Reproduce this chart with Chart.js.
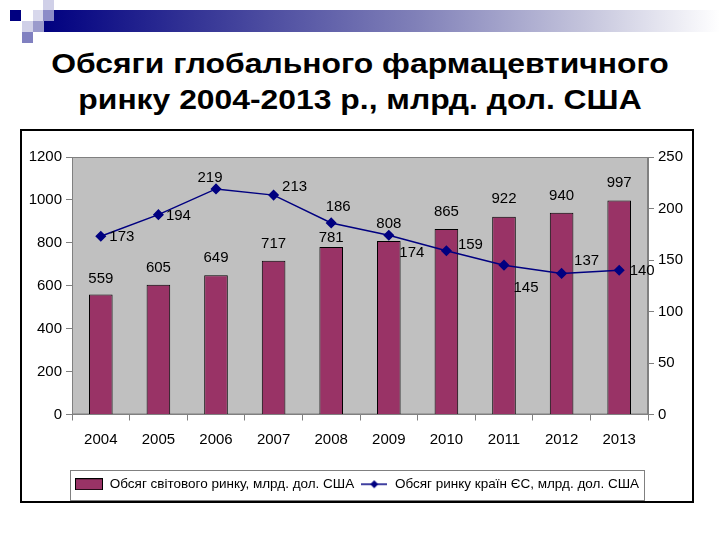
<!DOCTYPE html>
<html>
<head>
<meta charset="utf-8">
<script src="https://cdn.jsdelivr.net/npm/chart.js@4/dist/chart.umd.min.js"></script>
<style>
  html, body { margin: 0; padding: 0; background: #ffffff; }
  body { width: 720px; height: 540px; position: relative; overflow: hidden; font-family: "Liberation Sans", Arial, sans-serif; }
  .sq { position: absolute; width: 11px; height: 11px; }
  .band { position: absolute; left: 43px; top: 10px; width: 677px; height: 22px;
          background: linear-gradient(to right, #000080 0%, #3a3a98 25%, #8080b8 55%, #c4c4dc 80%, #ffffff 100%); }
  .title { position: absolute; left: 0; top: 46px; width: 720px; text-align: center;
           font-size: 27px; line-height: 36px; font-weight: bold; color: #000000;
           transform: scaleX(1.18); transform-origin: 360px 0; }
  #chart-box { position: absolute; left: 20px; top: 129px; width: 670px; height: 370px; border: 2px solid #000000; }
  #chart-box canvas { display: block; }
</style>
</head>
<body>
<div class="band"></div>
<div class="sq" style="left:10px;top:10px;background:#000080"></div>
<div class="sq" style="left:33px;top:10px;background:#d8d8ec"></div>
<div class="sq" style="left:43px;top:0px;background:#d0d0e8"></div>
<div class="sq" style="left:43px;top:10px;background:#8c8cc8"></div>
<div class="sq" style="left:22px;top:21px;background:#d0d0e8"></div>
<div class="sq" style="left:33px;top:21px;background:#9a9acc"></div>
<div class="sq" style="left:22px;top:32px;background:#8080c0"></div>
<div class="title">Обсяги глобального фармацевтичного<br>ринку 2004-2013 р., млрд. дол. США</div>
<div id="chart-box"><canvas id="pharma-chart" width="670" height="370"></canvas></div>
<script>
// дані з графіка
const years = ['2004', '2005', '2006', '2007', '2008', '2009', '2010', '2011', '2012', '2013'];
const worldMarket = [559, 605, 649, 717, 781, 808, 865, 922, 940, 997];
const euMarket = [173, 194, 219, 213, 186, 174, 159, 145, 137, 140];
const worldLabel = 'Обсяг світового ринку, млрд. дол. США';
const euLabel = 'Обсяг ринку країн ЄС, млрд. дол. США';

// зсуви підписів (як на оригіналі)
const barLabelLift = [16, 17, 17, 17, 9, 17, 17, 18, 17, 18];
const euLabelShift = [[21, 1], [20, 1], [-6, -11], [21, -8], [7, -16], [23, 18], [24, -6], [22, 23], [25, -13], [23, 1]];

const fontFamily = '"Liberation Sans", Arial, sans-serif';
const barColor = '#993366';
const lineColor = '#000080';

// іконки легенди
function makeBarIcon() {
    const c = document.createElement('canvas');
    c.width = 28; c.height = 12;
    const g = c.getContext('2d');
    g.fillStyle = barColor;
    g.fillRect(0, 0, 28, 12);
    g.strokeStyle = '#000000';
    g.lineWidth = 1;
    g.strokeRect(0.5, 0.5, 27, 11);
    return c;
}
function makeLineIcon() {
    const c = document.createElement('canvas');
    c.width = 26; c.height = 12;
    const g = c.getContext('2d');
    g.strokeStyle = lineColor;
    g.lineWidth = 1.5;
    g.beginPath(); g.moveTo(0, 6); g.lineTo(26, 6); g.stroke();
    g.fillStyle = lineColor;
    g.beginPath(); g.moveTo(13, 2); g.lineTo(17, 6); g.lineTo(13, 10); g.lineTo(9, 6); g.closePath(); g.fill();
    return c;
}
const barIcon = makeBarIcon();
const lineIcon = makeLineIcon();

const plotBackground = {
    id: 'plotBackground',
    beforeDraw(chart) {
        const a = chart.chartArea, ctx = chart.ctx;
        ctx.save();
        ctx.fillStyle = '#c0c0c0';
        ctx.fillRect(a.left, a.top, a.right - a.left, a.bottom - a.top);
        ctx.strokeStyle = '#808080';
        ctx.lineWidth = 1;
        ctx.strokeRect(a.left + 0.5, a.top + 0.5, a.right - a.left - 1, a.bottom - a.top - 1);
        ctx.restore();
    }
};

const valueLabels = {
    id: 'valueLabels',
    afterDatasetsDraw(chart) {
        const ctx = chart.ctx;
        ctx.save();
        ctx.font = '15px ' + fontFamily;
        ctx.fillStyle = '#000000';
        ctx.textAlign = 'center';
        ctx.textBaseline = 'middle';
        chart.getDatasetMeta(0).data.forEach((el, i) => {
            ctx.fillText(String(worldMarket[i]), el.x, el.y - barLabelLift[i]);
        });
        chart.getDatasetMeta(1).data.forEach((el, i) => {
            const s = euLabelShift[i];
            ctx.fillText(String(euMarket[i]), el.x + s[0], el.y + s[1]);
        });
        ctx.restore();
    }
};

const legendFrame = {
    id: 'legendFrame',
    afterDraw(chart) {
        const lg = chart.legend;
        if (!lg || !lg.legendHitBoxes.length) return;
        const boxes = lg.legendHitBoxes;
        const left = Math.min(...boxes.map(b => b.left)) - 5;
        const right = Math.max(...boxes.map(b => b.left + b.width)) + 5;
        const top = Math.min(...boxes.map(b => b.top)) - 8;
        const bottom = Math.max(...boxes.map(b => b.top + b.height)) + 8;
        const ctx = chart.ctx;
        ctx.save();
        ctx.strokeStyle = '#808080';
        ctx.lineWidth = 1;
        ctx.strokeRect(Math.round(left) + 0.5, Math.round(top) + 0.5, Math.round(right - left), Math.round(bottom - top));
        ctx.restore();
    }
};

const ctx = document.getElementById('pharma-chart').getContext('2d');
new Chart(ctx, {
    data: {
        labels: years,
        datasets: [{
            type: 'bar',
            label: worldLabel,
            data: worldMarket,
            yAxisID: 'y',
            backgroundColor: barColor,
            borderColor: '#000000',
            borderWidth: 1,
            barPercentage: 0.41,
            categoryPercentage: 1,
            order: 2
        }, {
            type: 'line',
            label: euLabel,
            data: euMarket,
            yAxisID: 'y1',
            borderColor: lineColor,
            backgroundColor: lineColor,
            borderWidth: 1.5,
            pointStyle: 'rectRot',
            pointRadius: 4.5,
            pointBackgroundColor: lineColor,
            pointBorderColor: lineColor,
            tension: 0,
            fill: false,
            order: 1
        }]
    },
    options: {
        responsive: false,
        animation: false,
        layout: { padding: { top: 26, bottom: 0, left: 0, right: 0 } },
        plugins: {
            legend: {
                position: 'bottom',
                labels: {
                    usePointStyle: true,
                    pointStyleWidth: 28,
                    padding: 6,
                    color: '#000000',
                    font: { family: fontFamily, size: 13.5 },
                    generateLabels(chart) {
                        const items = Chart.defaults.plugins.legend.labels.generateLabels(chart);
                        items.sort((a, b) => a.datasetIndex - b.datasetIndex);
                        items.forEach(it => {
                            it.pointStyle = it.datasetIndex === 0 ? barIcon : lineIcon;
                        });
                        return items;
                    }
                }
            },
            tooltip: { enabled: false }
        },
        scales: {
            x: {
                offset: true,
                grid: { offset: true, drawOnChartArea: false, drawTicks: true, tickLength: 6, color: '#808080' },
                border: { color: '#808080' },
                ticks: { color: '#000000', font: { family: fontFamily, size: 15 }, padding: 10 },
                afterFit(scale) { scale.height = 57; }
            },
            y: {
                position: 'left',
                min: 0,
                max: 1200,
                grid: { drawOnChartArea: false, tickLength: 6, color: '#808080' },
                border: { color: '#808080' },
                ticks: {
                    stepSize: 200, color: '#000000', font: { family: fontFamily, size: 15 }, padding: 4,
                    callback: function(value) { return String(value); }
                },
                afterFit(scale) { scale.width = 50; }
            },
            y1: {
                position: 'right',
                min: 0,
                max: 250,
                grid: { drawOnChartArea: false, tickLength: 6, color: '#808080' },
                border: { color: '#808080' },
                ticks: {
                    stepSize: 50, color: '#000000', font: { family: fontFamily, size: 15 }, padding: 4,
                    callback: function(value) { return String(value); }
                },
                afterFit(scale) { scale.width = 44; }
            }
        }
    },
    plugins: [plotBackground, valueLabels, legendFrame]
});
</script>
</body>
</html>
